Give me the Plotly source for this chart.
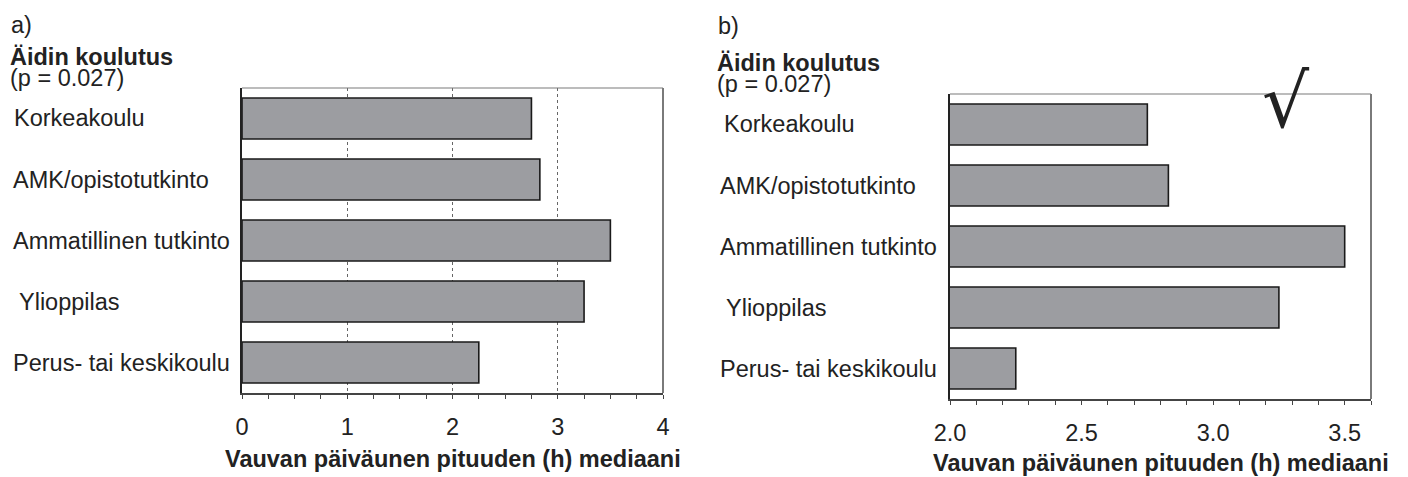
import plotly.graph_objects as go

# data
categories = ['Korkeakoulu', 'AMK/opistotutkinto', 'Ammatillinen tutkinto', 'Ylioppilas', 'Perus- tai keskikoulu']
medians = [2.75, 2.83, 3.5, 3.25, 2.25]
# small indent differences of the row labels (pixels from the window's left)
label_indent_a = [12, 11, 11, 17, 11]
label_indent_b = [722, 718, 718, 724, 718]
axis_title = 'Vauvan päiväunen pituuden (h) mediaani'

# the page body has an 8px margin: the figure starts at (8, 8) in the window
OFF = 8
W, H = 1408 - OFF, 477 - OFF


def px(X):
    return (X - OFF) / W


def py(Y):
    return 1 - (Y - OFF) / H


FONT = 'Liberation Sans, Arial, sans-serif'
BAR_FILL = '#9c9da1'
fs = 23.5

fig = go.Figure()

fig.add_trace(go.Bar(y=categories, x=medians, orientation='h', xaxis='x', yaxis='y',
                     marker=dict(color=BAR_FILL, line=dict(color='#1a1a1a', width=1.6)),
                     showlegend=False))
fig.add_trace(go.Bar(y=categories, x=medians, orientation='h', xaxis='x2', yaxis='y2',
                     marker=dict(color=BAR_FILL, line=dict(color='#1a1a1a', width=1.6)),
                     showlegend=False))

xa = dict(showline=True, linecolor='#444', linewidth=1.5, ticks='outside', ticklen=4,
          tickcolor='#444', tickwidth=1, tickfont=dict(size=fs, color='#222'),
          ticklabelstandoff=8, zeroline=False, fixedrange=True, automargin=False)
ya = dict(type='category', categoryorder='array', categoryarray=categories,
          autorange='reversed', showline=True, linecolor='#222', linewidth=1.5,
          showticklabels=False, ticks='', showgrid=False, zeroline=False, automargin=False)

fig.update_layout(
    width=W, height=H, autosize=False,
    margin=dict(l=0, r=0, t=0, b=0, pad=0),
    paper_bgcolor='white', plot_bgcolor='white',
    font=dict(family=FONT, size=fs, color='#222'),
    bargap=0.33,
    xaxis=dict(xa, domain=[px(242), px(663)], anchor='y', range=[0, 4], tick0=0, dtick=1,
               showgrid=True, gridcolor='#666', griddash='dot', gridwidth=1,
               minor=dict(dtick=0.25, ticks='outside', ticklen=4, tickcolor='#444', showgrid=False)),
    yaxis=dict(ya, domain=[py(393), py(88)], anchor='x'),
    xaxis2=dict(xa, domain=[px(950), px(1371)], anchor='y2', range=[2.0, 3.6], tick0=2.0, dtick=0.5,
                tickformat='.1f', showgrid=False,
                minor=dict(dtick=0.1, ticks='outside', ticklen=4, tickcolor='#444', showgrid=False)),
    yaxis2=dict(ya, domain=[py(399), py(94)], anchor='x2'),
)

# grey top and right frame lines
for xr, yr in (('x', 'y'), ('x2', 'y2')):
    fig.add_shape(type='line', xref=xr + ' domain', yref=yr + ' domain', x0=0, x1=1, y0=1, y1=1,
                  line=dict(color='#7a7a7a', width=1.2))
    fig.add_shape(type='line', xref=xr + ' domain', yref=yr + ' domain', x0=1, x1=1, y0=0, y1=1,
                  line=dict(color='#7a7a7a', width=2))

# row labels
for cat, ia, ib in zip(categories, label_indent_a, label_indent_b):
    fig.add_annotation(text=cat, xref='paper', x=px(ia), xanchor='left', yref='y', y=cat,
                       showarrow=False, font=dict(size=fs))
    fig.add_annotation(text=cat, xref='paper', x=px(ib), xanchor='left', yref='y2', y=cat,
                       showarrow=False, font=dict(size=fs))

# x axis titles
fig.add_annotation(text=f'<b>{axis_title}</b>', xref='x domain', yref='paper', x=0.5, y=py(459),
                   xanchor='center', yanchor='middle', showarrow=False, font=dict(size=fs))
fig.add_annotation(text=f'<b>{axis_title}</b>', xref='x2 domain', yref='paper', x=0.5, y=py(463),
                   xanchor='center', yanchor='middle', showarrow=False, font=dict(size=fs))

# panel headers
headers = [('a)', 9, 25, False), ('Äidin koulutus', 8, 57, True), ('(p = 0.027)', 8, 78, False),
           ('b)', 716, 26, False), ('Äidin koulutus', 715, 63, True), ('(p = 0.027)', 715, 84, False)]
for txt, X, Y, bold in headers:
    fig.add_annotation(text=f'<b>{txt}</b>' if bold else txt, xref='paper', yref='paper',
                       x=px(X), y=py(Y), xanchor='left', yanchor='middle',
                       showarrow=False, font=dict(size=fs))

# check mark on panel b
fig.add_annotation(text='√', xref='paper', yref='paper', x=px(1286), y=py(101),
                   xanchor='center', yanchor='middle', showarrow=False,
                   font=dict(size=74, family='DejaVu Sans', color='#222'))

fig.write_html('out.html')
